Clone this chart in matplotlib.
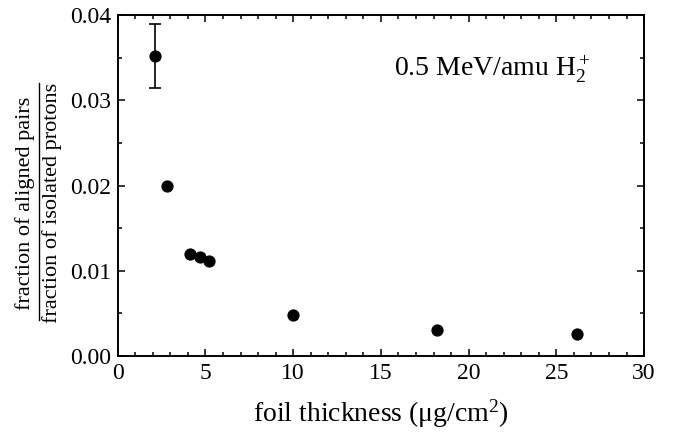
import numpy as np
import matplotlib
matplotlib.use('Agg')
import matplotlib.pyplot as plt
from matplotlib.ticker import MultipleLocator, FormatStrFormatter
from matplotlib.lines import Line2D

plt.rcParams['font.family'] = 'Liberation Serif'
plt.rcParams['mathtext.fontset'] = 'custom'
plt.rcParams['mathtext.rm'] = 'Liberation Serif'
plt.rcParams['mathtext.it'] = 'Liberation Serif:italic'

# foil thickness (ug/cm^2) and ratio of aligned pairs to isolated protons
thickness = [2.1, 2.8, 4.1, 4.7, 5.2, 10.0, 18.2, 26.2]
ratio = [0.0352, 0.0200, 0.0120, 0.0116, 0.0112, 0.0048, 0.0030, 0.0026]
ratio_err = [0.0038, 0, 0, 0, 0, 0, 0, 0]

fig = plt.figure(figsize=(6.78, 4.43), dpi=100)
ax = fig.add_axes([0.1736, 0.1964, 0.7764, 0.7697])

# only the first point carries an error bar
ax.errorbar(thickness[:1], ratio[:1], yerr=ratio_err[:1], fmt='none',
            ecolor='black', elinewidth=1.2, capsize=4.5, capthick=1.2)
ax.plot(thickness, ratio, 'o', color='black', markersize=7.8)

ax.set_xlim(0, 30)
ax.set_ylim(0, 0.04)
ax.xaxis.set_major_locator(MultipleLocator(5))
ax.xaxis.set_minor_locator(MultipleLocator(1))
ax.yaxis.set_major_locator(MultipleLocator(0.01))
ax.yaxis.set_minor_locator(MultipleLocator(0.005))
ax.yaxis.set_major_formatter(FormatStrFormatter('%.2f'))

for s in ax.spines.values():
    s.set_linewidth(1.4)
ax.tick_params(which='both', direction='in', top=True, right=True,
               labelsize=17, width=1.1)
ax.tick_params(which='major', length=5, pad=5)
ax.tick_params(which='minor', length=2.8)

ax.set_xlabel(r'foil thickness ($\mathrm{\mu}$g/cm$^2$)', fontsize=20, labelpad=10)

ax.text(0.897, 0.821, r'0.5 MeV/amu H$_2^+$', transform=ax.transAxes,
        fontsize=20, ha='right', va='baseline')

# y label as a stacked fraction
fig.text(25 / 678, 1 - 203 / 443, 'fraction of aligned pairs', rotation=90,
         fontsize=16, ha='center', va='center')
fig.text(52 / 678, 1 - 203 / 443, 'fraction of isolated protons', rotation=90,
         fontsize=16, ha='center', va='center')
fig.add_artist(Line2D([39 / 678, 39 / 678], [1 - 83 / 443, 1 - 320 / 443],
                      transform=fig.transFigure, color='black', linewidth=1.0))

fig.savefig('out.png', dpi=100)
